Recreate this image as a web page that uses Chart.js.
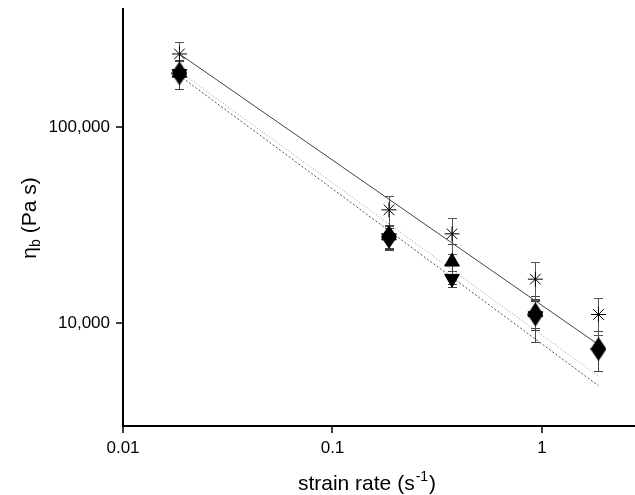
<!DOCTYPE html>
<html>
<head>
<meta charset="utf-8">
<script src="https://cdn.jsdelivr.net/npm/chart.js@4.4.1/dist/chart.umd.min.js"></script>
<style>
  html, body { margin: 0; padding: 0; background: #fff; }
  canvas { display: block; }
</style>
</head>
<body>
<canvas id="ViscosityStats" width="635" height="495"></canvas>
<script>
//
//
// Data
var strain_rates = [0.0186, 0.186, 0.372, 0.93, 1.86];

var star_values = [236000, 37900, 28600, 16800, 11100];
var star_errors = [37000, 6500, 5900, 3700, 2400];

var up_values = [189000, 28000, 20600, 11400, null];
var up_errors = [32000, 3800, 4800, 1900, null];

var down_values = [187000, 27200, 16900, 10900, null];
var down_errors = [30000, 3500, 1500, 2900, null];

var diamond_values = [188000, 27600, null, 11100, 7400];
var diamond_errors = [32000, 3800, null, 1900, 1700];

// Power law fits, end points
var fit_x = [0.0186, 1.86];
var fit_solid = [236000, 7800];
var fit_dotted = [192000, 5380];
var fit_dashed = [183000, 4810];

// Tick labels
var x_tick_values = [0.01, 0.1, 1];
var x_tick_labels = ['0.01', '0.1', '1'];
var y_tick_values = [10000, 100000];
var y_tick_labels = ['10,000', '100,000'];

var font_family = "'Liberation Sans', Arial, sans-serif";

//
//
// Helpers
function toPoints(xs, ys){
  var pts = [];
  for (var i = 0; i < xs.length; i++){
    pts.push({ x: xs[i], y: ys[i] });
  }
  return pts;
}

function isDecade(v){
  var p = Math.log10(v);
  return Math.abs(p - Math.round(p)) < 1e-6;
}

function isWhole(v){
  var m = v / Math.pow(10, Math.floor(Math.log10(v) + 1e-9));
  return Math.abs(m - Math.round(m)) < 1e-6;
}

function lookupLabel(values, labels, v){
  for (var i = 0; i < values.length; i++){
    if (Math.abs(values[i] - v) / values[i] < 1e-6) return labels[i];
  }
  return null;
}

// Keep the plot box where it is, no room for label overhang
function fixScale(scale, size){
  if (scale.isHorizontal()) scale.height = size;
  else scale.width = size;
  scale.paddingTop = 0;
  scale.paddingBottom = 0;
  scale.paddingLeft = 0;
  scale.paddingRight = 0;
}

// Tall filled diamond marker
function diamondMarker(w, h){
  var c = document.createElement('canvas');
  c.width = w;
  c.height = h;
  var g = c.getContext('2d');
  g.beginPath();
  g.moveTo(w / 2, 0);
  g.lineTo(w, h / 2);
  g.lineTo(w / 2, h);
  g.lineTo(0, h / 2);
  g.closePath();
  g.fillStyle = '#000';
  g.fill();
  return c;
}

//
//
// Error bars, drawn under the markers
var errorBars = {
  id: 'errorBars',
  beforeDatasetsDraw: function(chart){
    var ctx = chart.ctx;
    var xs = chart.scales.x;
    var ys = chart.scales.y;
    ctx.save();
    ctx.lineWidth = 1;
    chart.data.datasets.forEach(function(ds){
      if (!ds.errors) return;
      ctx.strokeStyle = ds.errorColor;
      ds.data.forEach(function(p, i){
        var e = ds.errors[i];
        if (p.y === null || e === null) return;
        var px = Math.round(xs.getPixelForValue(p.x)) + 0.5;
        var top = Math.round(ys.getPixelForValue(p.y + e)) + 0.5;
        var bottom = Math.round(ys.getPixelForValue(p.y - e)) + 0.5;
        ctx.beginPath();
        ctx.moveTo(px, top);
        ctx.lineTo(px, bottom);
        ctx.moveTo(px - 4.5, top);
        ctx.lineTo(px + 4.5, top);
        ctx.moveTo(px - 4.5, bottom);
        ctx.lineTo(px + 4.5, bottom);
        ctx.stroke();
      });
    });
    ctx.restore();
  }
};

//
//
// Outward major / minor ticks and the axis titles
var axisDecor = {
  id: 'axisDecor',
  afterDraw: function(chart){
    var ctx = chart.ctx;
    var area = chart.chartArea;
    var xs = chart.scales.x;
    var ys = chart.scales.y;

    ctx.save();
    ctx.strokeStyle = '#000';
    ctx.lineWidth = 1.5;
    ctx.beginPath();
    xs.ticks.forEach(function(t){
      if (!isWhole(t.value)) return;
      var px = Math.round(xs.getPixelForValue(t.value));
      var len = isDecade(t.value) ? 7 : 4;
      ctx.moveTo(px, area.bottom);
      ctx.lineTo(px, area.bottom + len);
    });
    ys.ticks.forEach(function(t){
      if (!isWhole(t.value)) return;
      var py = Math.round(ys.getPixelForValue(t.value));
      var len = isDecade(t.value) ? 7 : 4;
      ctx.moveTo(area.left, py);
      ctx.lineTo(area.left - len, py);
    });
    ctx.stroke();

    ctx.fillStyle = '#000';
    ctx.textBaseline = 'alphabetic';
    ctx.textAlign = 'left';

    // x title: strain rate (s-1)
    var big = '21px ' + font_family;
    var small = '14px ' + font_family;
    ctx.font = big;
    var a = 'strain rate (s';
    var c = ')';
    var wa = ctx.measureText(a).width;
    var wc = ctx.measureText(c).width;
    ctx.font = small;
    var b = '-1';
    var wb = ctx.measureText(b).width;
    var x0 = 366 - (wa + wb + wc) / 2;
    var base = 490;
    ctx.font = big;
    ctx.fillText(a, x0, base);
    ctx.font = small;
    ctx.fillText(b, x0 + wa + 1, base - 9);
    ctx.font = big;
    ctx.fillText(c, x0 + wa + wb + 2, base);

    // y title: eta_b (Pa s)
    ctx.translate(36, 218);
    ctx.rotate(-Math.PI / 2);
    ctx.font = big;
    var ya = '\u03b7';
    var yc = ' (Pa s)';
    var wya = ctx.measureText(ya).width;
    var wyc = ctx.measureText(yc).width;
    ctx.font = small;
    var yb = 'b';
    var wyb = ctx.measureText(yb).width;
    var y0 = -(wya + wyb + wyc) / 2;
    ctx.font = big;
    ctx.fillText(ya, y0, 0);
    ctx.font = small;
    ctx.fillText(yb, y0 + wya, 4);
    ctx.font = big;
    ctx.fillText(yc, y0 + wya + wyb, 0);
    ctx.restore();
  }
};

//
//
// Draw Chart
function drawViscosityChart(){
  var canvas = document.getElementById('ViscosityStats');
  var ctx = canvas.getContext('2d');

  Chart.defaults.font.family = font_family;
  Chart.defaults.color = '#000';

  new Chart(ctx, {
    type: 'scatter',
    data: {
      datasets: [{
        label: 'diamond',
        data: toPoints(strain_rates, diamond_values),
        errors: diamond_errors,
        errorColor: '#444',
        pointStyle: diamondMarker(16, 24),
        pointRadius: 8,
        backgroundColor: '#000',
        borderColor: '#000',
        order: 1
      }, {
        label: 'up',
        data: toPoints(strain_rates, up_values),
        errors: up_errors,
        errorColor: '#444',
        pointStyle: 'triangle',
        pointRadius: 8.5,
        backgroundColor: '#000',
        borderColor: '#000',
        borderWidth: 1,
        order: 1
      }, {
        label: 'down',
        data: toPoints(strain_rates, down_values),
        errors: down_errors,
        errorColor: '#444',
        pointStyle: 'triangle',
        pointRotation: 180,
        pointRadius: 8.5,
        backgroundColor: '#000',
        borderColor: '#000',
        borderWidth: 1,
        order: 1
      }, {
        label: 'star',
        data: toPoints(strain_rates, star_values),
        errors: star_errors,
        errorColor: '#555',
        pointStyle: 'star',
        pointRadius: 7.5,
        backgroundColor: 'rgba(0,0,0,0)',
        borderColor: '#000',
        borderWidth: 1,
        order: 1
      }, {
        label: 'fit solid',
        data: toPoints(fit_x, fit_solid),
        showLine: true,
        pointRadius: 0,
        borderColor: '#444',
        borderWidth: 1,
        order: 2
      }, {
        label: 'fit dotted',
        data: toPoints(fit_x, fit_dotted),
        showLine: true,
        pointRadius: 0,
        borderColor: '#999',
        borderWidth: 1,
        borderDash: [1, 2],
        order: 2
      }, {
        label: 'fit dashed',
        data: toPoints(fit_x, fit_dashed),
        showLine: true,
        pointRadius: 0,
        borderColor: '#555',
        borderWidth: 1,
        borderDash: [2, 2],
        order: 2
      }]
    },
    options: {
      responsive: false,
      animation: false,
      layout: {
        autoPadding: false,
        padding: { top: 9, left: 0, right: 0, bottom: 0 }
      },
      plugins: {
        legend: { display: false },
        tooltip: { enabled: false }
      },
      scales: {
        x: {
          type: 'logarithmic',
          position: 'bottom',
          min: 0.01,
          max: 2.78,
          grid: { display: false, drawTicks: false },
          border: { display: true, color: '#000', width: 2 },
          ticks: {
            autoSkip: false,
            maxRotation: 0,
            padding: 12,
            font: { size: 17 },
            color: '#000',
            callback: function(v){ return lookupLabel(x_tick_values, x_tick_labels, v); }
          },
          afterFit: function(scale){ fixScale(scale, 69); }
        },
        y: {
          type: 'logarithmic',
          position: 'left',
          min: 3000,
          max: 400000,
          grid: { display: false, drawTicks: false },
          border: { display: true, color: '#000', width: 2 },
          ticks: {
            autoSkip: false,
            padding: 13,
            font: { size: 17 },
            color: '#000',
            callback: function(v){ return lookupLabel(y_tick_values, y_tick_labels, v); }
          },
          afterFit: function(scale){ fixScale(scale, 123); }
        }
      }
    },
    plugins: [errorBars, axisDecor]
  });
}

drawViscosityChart();
</script>
</body>
</html>
